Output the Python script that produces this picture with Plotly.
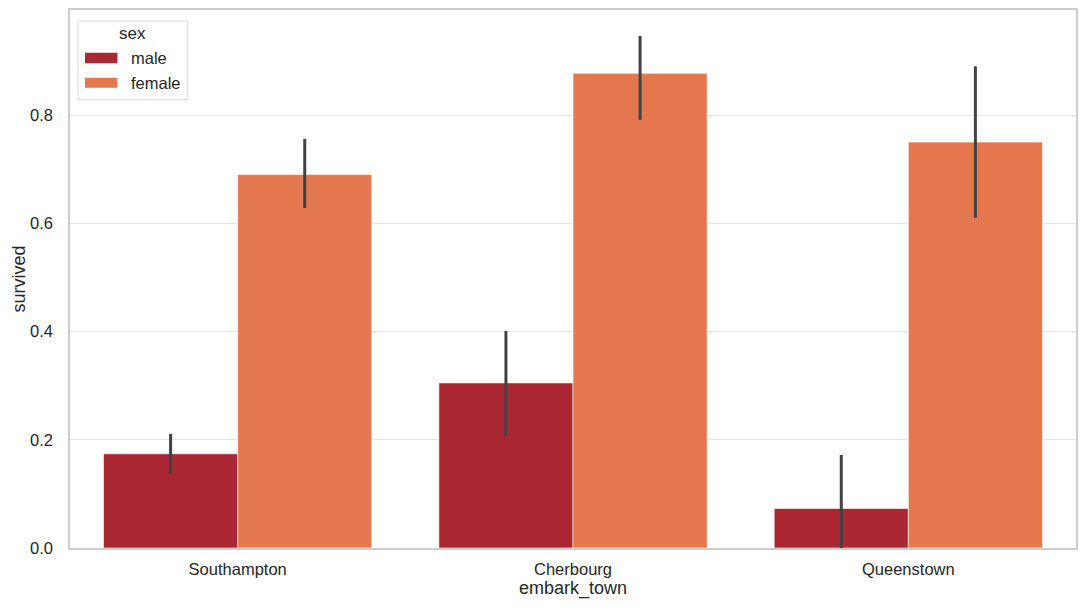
import plotly.graph_objects as go

towns = ["Southampton", "Cherbourg", "Queenstown"]
male_vals = [0.174, 0.305, 0.073]
male_hi = [0.211, 0.401, 0.172]
male_lo = [0.137, 0.207, 0.0]
female_vals = [0.690, 0.877, 0.750]
female_hi = [0.756, 0.946, 0.890]
female_lo = [0.628, 0.791, 0.610]
yticks = [0.0, 0.2, 0.4, 0.6, 0.8]

MALE = "#AB2733"
FEMALE = "#E67850"
ERR = "#424242"
TXT = "#262626"

fig = go.Figure()
for name, vals, hi, lo, col in [("male", male_vals, male_hi, male_lo, MALE),
                                ("female", female_vals, female_hi, female_lo, FEMALE)]:
    fig.add_trace(go.Bar(
        x=towns, y=vals, name=name,
        marker=dict(color=col, line=dict(color="rgba(255,255,255,0.6)", width=1)),
        error_y=dict(type="data", symmetric=False,
                     array=[h - v for h, v in zip(hi, vals)],
                     arrayminus=[v - l for v, l in zip(vals, lo)],
                     color=ERR, thickness=3, width=0),
        showlegend=False,
    ))

L, R, T, B = 70, 1077, 8, 548
W, H = R - L, B - T
px = lambda x: (x - L) / W
py = lambda y: (B - y) / H

shapes = [
    dict(type="rect", xref="paper", yref="paper", x0=px(78), x1=px(188), y0=py(98), y1=py(19),
         line=dict(color="#D9D9D9", width=1), fillcolor="rgba(255,255,255,0.85)", layer="above"),
    dict(type="rect", xref="paper", yref="paper", x0=px(85), x1=px(117.5), y0=py(61.5), y1=py(51),
         line=dict(width=0), fillcolor=MALE, layer="above"),
    dict(type="rect", xref="paper", yref="paper", x0=px(85), x1=px(117.5), y0=py(86), y1=py(76),
         line=dict(width=0), fillcolor=FEMALE, layer="above"),
]
annotations = [
    dict(text="sex", xref="paper", yref="paper", x=px(133), y=py(32), showarrow=False,
         xanchor="center", yanchor="middle", font=dict(size=17, color=TXT)),
    dict(text="male", xref="paper", yref="paper", x=px(129), y=py(56.5), showarrow=False,
         xanchor="left", yanchor="middle", font=dict(size=16.5, color=TXT)),
    dict(text="female", xref="paper", yref="paper", x=px(129), y=py(81), showarrow=False,
         xanchor="left", yanchor="middle", font=dict(size=16.5, color=TXT)),
]

fig.update_layout(
    width=1086, height=610,
    margin=dict(l=L, r=1086 - R, t=T, b=610 - B),
    paper_bgcolor="white", plot_bgcolor="white",
    barmode="group", bargap=0.2, bargroupgap=0,
    font=dict(family="Liberation Sans, Arial, sans-serif", size=16.5, color=TXT),
    shapes=shapes, annotations=annotations,
    xaxis=dict(title=dict(text="embark_town", font=dict(size=18), standoff=4),
               showgrid=False, showline=True, mirror=True, linecolor="#CCCCCC", linewidth=1.5,
               ticks="", tickfont=dict(size=16.5), ticklabelstandoff=5, range=[-0.5, 2.5]),
    yaxis=dict(title=dict(text="survived", font=dict(size=18), standoff=0),
               range=[0, 0.994], tickvals=yticks, tickformat=".1f",
               showgrid=True, gridcolor="#E5E5E5", gridwidth=1, zeroline=False,
               showline=True, mirror=True, linecolor="#CCCCCC", linewidth=1.5,
               ticks="", tickfont=dict(size=16.5), ticklabelstandoff=12),
)

fig.write_html("out.html")
